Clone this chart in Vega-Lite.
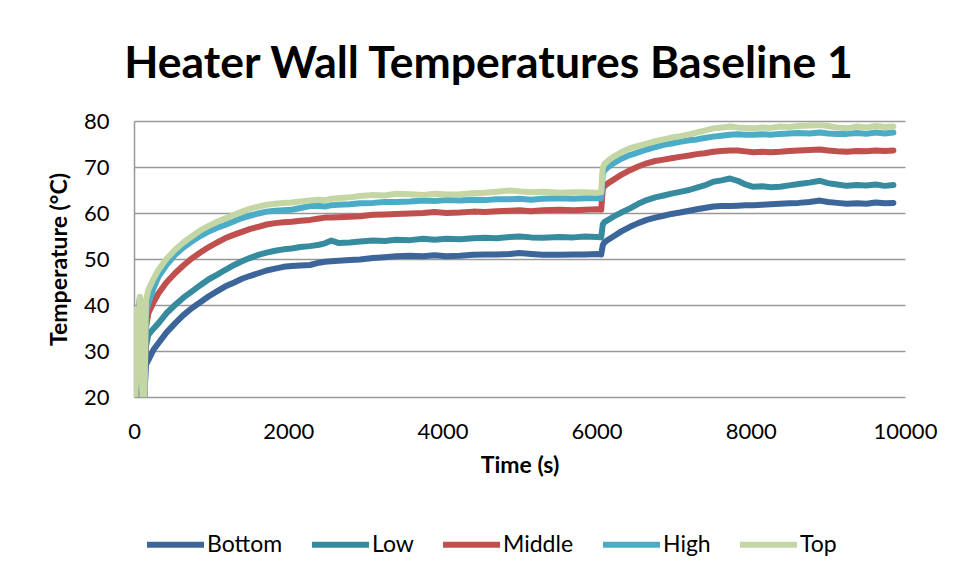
{
  "$schema": "https://vega.github.io/schema/vega-lite/v6.json",
  "width": 771,
  "height": 276,
  "autosize": {"type": "none"},
  "padding": {"left": 134, "top": 121, "right": 50, "bottom": 181},
  "background": "white",
  "config": {
    "font": "Lato",
    "view": {"stroke": null},
    "axis": {"labelFont": "Lato", "titleFont": "Lato"},
    "legend": {"labelFont": "Lato"}
  },
  "title": {
    "text": "Heater Wall Temperatures Baseline 1",
    "font": "Lato",
    "fontSize": 44.5,
    "fontWeight": "bold",
    "color": "#000000",
    "anchor": "middle",
    "dx": -31,
    "offset": 23
  },
  "data": {
    "values": [
      {"t": 0, "Bottom": 37.5, "Low": 38, "Middle": 38.5, "High": 39, "Top": 39},
      {"t": 15, "Bottom": 20, "Low": 20, "Middle": 20, "High": 20, "Top": 20},
      {"t": 40, "Bottom": 25, "Low": 26, "Middle": 26, "High": 27, "Top": 27},
      {"t": 75, "Bottom": 40, "Low": 40.5, "Middle": 41, "High": 41.5, "Top": 41.8},
      {"t": 95, "Bottom": 30, "Low": 30, "Middle": 30, "High": 30, "Top": 30},
      {"t": 110, "Bottom": 20, "Low": 20, "Middle": 20, "High": 20, "Top": 20},
      {"t": 135, "Bottom": 20, "Low": 20, "Middle": 20, "High": 20, "Top": 20},
      {"t": 155, "Bottom": 27, "Low": 31, "Middle": 35, "High": 38, "Top": 41},
      {"t": 186, "Bottom": 28.0, "Low": 33.5, "Middle": 38.2, "High": 40.4, "Top": 43.3},
      {"t": 250, "Bottom": 30.2, "Low": 34.8, "Middle": 40.5, "High": 43.5, "Top": 45.6},
      {"t": 316, "Bottom": 31.7, "Low": 36.0, "Middle": 42.5, "High": 46.1, "Top": 47.6},
      {"t": 420, "Bottom": 34.0, "Low": 38.2, "Middle": 44.9, "High": 48.7, "Top": 50.0},
      {"t": 532, "Bottom": 36.0, "Low": 40.0, "Middle": 46.9, "High": 50.9, "Top": 52.0},
      {"t": 640, "Bottom": 37.8, "Low": 41.6, "Middle": 48.6, "High": 52.5, "Top": 53.6},
      {"t": 748, "Bottom": 39.3, "Low": 42.9, "Middle": 50.1, "High": 53.8, "Top": 54.9},
      {"t": 860, "Bottom": 40.6, "Low": 44.3, "Middle": 51.4, "High": 55.0, "Top": 56.2},
      {"t": 970, "Bottom": 41.9, "Low": 45.6, "Middle": 52.6, "High": 56.0, "Top": 57.2},
      {"t": 1080, "Bottom": 43.0, "Low": 46.6, "Middle": 53.6, "High": 56.8, "Top": 58.1},
      {"t": 1180, "Bottom": 44.0, "Low": 47.6, "Middle": 54.5, "High": 57.4, "Top": 58.8},
      {"t": 1300, "Bottom": 44.9, "Low": 48.7, "Middle": 55.3, "High": 58.2, "Top": 59.6},
      {"t": 1400, "Bottom": 45.7, "Low": 49.5, "Middle": 55.9, "High": 58.9, "Top": 60.3},
      {"t": 1500, "Bottom": 46.3, "Low": 50.2, "Middle": 56.5, "High": 59.4, "Top": 60.9},
      {"t": 1613, "Bottom": 46.9, "Low": 50.9, "Middle": 57.0, "High": 59.9, "Top": 61.4},
      {"t": 1720, "Bottom": 47.5, "Low": 51.4, "Middle": 57.5, "High": 60.3, "Top": 61.8},
      {"t": 1830, "Bottom": 47.9, "Low": 51.8, "Middle": 57.8, "High": 60.5, "Top": 62.0},
      {"t": 1940, "Bottom": 48.3, "Low": 52.1, "Middle": 58.0, "High": 60.6, "Top": 62.2},
      {"t": 2045, "Bottom": 48.5, "Low": 52.3, "Middle": 58.1, "High": 60.7, "Top": 62.3},
      {"t": 2160, "Bottom": 48.6, "Low": 52.6, "Middle": 58.3, "High": 61.1, "Top": 62.5},
      {"t": 2283, "Bottom": 48.7, "Low": 52.8, "Middle": 58.5, "High": 61.5, "Top": 62.7},
      {"t": 2400, "Bottom": 49.2, "Low": 53.1, "Middle": 58.8, "High": 61.5, "Top": 62.9},
      {"t": 2477, "Bottom": 49.4, "Low": 53.4, "Middle": 59.0, "High": 61.4, "Top": 62.8},
      {"t": 2560, "Bottom": 49.5, "Low": 54.0, "Middle": 59.0, "High": 61.7, "Top": 63.1},
      {"t": 2650, "Bottom": 49.6, "Low": 53.5, "Middle": 59.1, "High": 61.8, "Top": 63.2},
      {"t": 2800, "Bottom": 49.8, "Low": 53.6, "Middle": 59.2, "High": 61.9, "Top": 63.4},
      {"t": 2931, "Bottom": 49.9, "Low": 53.8, "Middle": 59.3, "High": 62.1, "Top": 63.7},
      {"t": 3100, "Bottom": 50.2, "Low": 54.0, "Middle": 59.6, "High": 62.2, "Top": 63.9},
      {"t": 3250, "Bottom": 50.4, "Low": 53.9, "Middle": 59.7, "High": 62.4, "Top": 63.8},
      {"t": 3400, "Bottom": 50.6, "Low": 54.2, "Middle": 59.8, "High": 62.4, "Top": 64.2},
      {"t": 3580, "Bottom": 50.7, "Low": 54.1, "Middle": 59.9, "High": 62.5, "Top": 64.1},
      {"t": 3750, "Bottom": 50.6, "Low": 54.4, "Middle": 60.0, "High": 62.7, "Top": 63.9},
      {"t": 3900, "Bottom": 50.8, "Low": 54.2, "Middle": 60.2, "High": 62.6, "Top": 64.2},
      {"t": 4050, "Bottom": 50.6, "Low": 54.4, "Middle": 60.0, "High": 62.8, "Top": 64.0},
      {"t": 4228, "Bottom": 50.7, "Low": 54.3, "Middle": 60.1, "High": 62.7, "Top": 64.1},
      {"t": 4400, "Bottom": 50.9, "Low": 54.5, "Middle": 60.3, "High": 62.9, "Top": 64.3},
      {"t": 4550, "Bottom": 51.0, "Low": 54.6, "Middle": 60.2, "High": 62.8, "Top": 64.4},
      {"t": 4700, "Bottom": 51.0, "Low": 54.5, "Middle": 60.4, "High": 63.0, "Top": 64.6},
      {"t": 4877, "Bottom": 51.1, "Low": 54.8, "Middle": 60.5, "High": 63.0, "Top": 64.9},
      {"t": 5000, "Bottom": 51.3, "Low": 54.9, "Middle": 60.6, "High": 63.1, "Top": 64.7},
      {"t": 5150, "Bottom": 51.1, "Low": 54.7, "Middle": 60.4, "High": 62.9, "Top": 64.5},
      {"t": 5300, "Bottom": 50.9, "Low": 54.6, "Middle": 60.6, "High": 63.1, "Top": 64.6},
      {"t": 5525, "Bottom": 50.9, "Low": 54.8, "Middle": 60.7, "High": 63.2, "Top": 64.4},
      {"t": 5700, "Bottom": 51.0, "Low": 54.7, "Middle": 60.6, "High": 63.1, "Top": 64.5},
      {"t": 5850, "Bottom": 51.0, "Low": 54.9, "Middle": 60.7, "High": 63.2, "Top": 64.5},
      {"t": 6001, "Bottom": 51.1, "Low": 54.8, "Middle": 60.8, "High": 63.2, "Top": 64.4},
      {"t": 6060, "Bottom": 51.0, "Low": 54.7, "Middle": 60.7, "High": 63.2, "Top": 64.5},
      {"t": 6080, "Bottom": 53.0, "Low": 57.5, "Middle": 65.2, "High": 68.5, "Top": 69.8},
      {"t": 6100, "Bottom": 53.6, "Low": 58.0, "Middle": 65.8, "High": 69.2, "Top": 70.6},
      {"t": 6150, "Bottom": 54.2, "Low": 58.5, "Middle": 66.5, "High": 70.0, "Top": 71.4},
      {"t": 6217, "Bottom": 54.9, "Low": 59.2, "Middle": 67.2, "High": 70.8, "Top": 72.2},
      {"t": 6320, "Bottom": 56.0, "Low": 60.1, "Middle": 68.3, "High": 71.8, "Top": 73.2},
      {"t": 6433, "Bottom": 57.0, "Low": 61.0, "Middle": 69.3, "High": 72.6, "Top": 74.1},
      {"t": 6540, "Bottom": 57.8, "Low": 62.0, "Middle": 70.1, "High": 73.2, "Top": 74.6},
      {"t": 6650, "Bottom": 58.5, "Low": 62.8, "Middle": 70.8, "High": 73.8, "Top": 75.1},
      {"t": 6760, "Bottom": 59.0, "Low": 63.4, "Middle": 71.3, "High": 74.3, "Top": 75.6},
      {"t": 6870, "Bottom": 59.4, "Low": 63.8, "Middle": 71.6, "High": 74.8, "Top": 76.0},
      {"t": 6970, "Bottom": 59.8, "Low": 64.2, "Middle": 71.9, "High": 75.1, "Top": 76.4},
      {"t": 7082, "Bottom": 60.1, "Low": 64.6, "Middle": 72.2, "High": 75.5, "Top": 76.7},
      {"t": 7200, "Bottom": 60.5, "Low": 65.0, "Middle": 72.5, "High": 75.8, "Top": 77.1},
      {"t": 7300, "Bottom": 60.8, "Low": 65.5, "Middle": 72.8, "High": 76.0, "Top": 77.5},
      {"t": 7400, "Bottom": 61.1, "Low": 66.0, "Middle": 73.0, "High": 76.3, "Top": 77.9},
      {"t": 7514, "Bottom": 61.4, "Low": 66.8, "Middle": 73.3, "High": 76.6, "Top": 78.4},
      {"t": 7620, "Bottom": 61.5, "Low": 67.1, "Middle": 73.5, "High": 76.8, "Top": 78.6},
      {"t": 7730, "Bottom": 61.5, "Low": 67.5, "Middle": 73.6, "High": 77.0, "Top": 78.8},
      {"t": 7830, "Bottom": 61.6, "Low": 67.0, "Middle": 73.6, "High": 77.1, "Top": 78.6},
      {"t": 7930, "Bottom": 61.7, "Low": 66.2, "Middle": 73.4, "High": 77.0, "Top": 78.5},
      {"t": 8033, "Bottom": 61.7, "Low": 65.7, "Middle": 73.2, "High": 77.0, "Top": 78.4},
      {"t": 8150, "Bottom": 61.8, "Low": 65.8, "Middle": 73.3, "High": 77.1, "Top": 78.6},
      {"t": 8260, "Bottom": 61.9, "Low": 65.6, "Middle": 73.2, "High": 77.0, "Top": 78.5},
      {"t": 8379, "Bottom": 62.0, "Low": 65.7, "Middle": 73.3, "High": 77.2, "Top": 78.8},
      {"t": 8500, "Bottom": 62.1, "Low": 66.0, "Middle": 73.5, "High": 77.3, "Top": 78.7},
      {"t": 8620, "Bottom": 62.2, "Low": 66.3, "Middle": 73.6, "High": 77.4, "Top": 78.9},
      {"t": 8760, "Bottom": 62.4, "Low": 66.6, "Middle": 73.7, "High": 77.3, "Top": 79.0},
      {"t": 8898, "Bottom": 62.7, "Low": 67.0, "Middle": 73.8, "High": 77.5, "Top": 79.1},
      {"t": 9000, "Bottom": 62.4, "Low": 66.5, "Middle": 73.6, "High": 77.3, "Top": 78.9},
      {"t": 9120, "Bottom": 62.2, "Low": 66.2, "Middle": 73.4, "High": 77.2, "Top": 78.6},
      {"t": 9244, "Bottom": 62.0, "Low": 65.9, "Middle": 73.3, "High": 77.2, "Top": 78.4},
      {"t": 9380, "Bottom": 62.1, "Low": 66.1, "Middle": 73.5, "High": 77.4, "Top": 78.8},
      {"t": 9500, "Bottom": 62.0, "Low": 66.0, "Middle": 73.4, "High": 77.2, "Top": 78.6},
      {"t": 9620, "Bottom": 62.3, "Low": 66.2, "Middle": 73.6, "High": 77.5, "Top": 78.9},
      {"t": 9740, "Bottom": 62.1, "Low": 65.9, "Middle": 73.5, "High": 77.3, "Top": 78.7},
      {"t": 9849, "Bottom": 62.2, "Low": 66.1, "Middle": 73.6, "High": 77.5, "Top": 78.8}
    ]
  },
  "transform": [
    {"fold": ["Bottom", "Low", "Middle", "High", "Top"], "as": ["series", "temp"]}
  ],
  "mark": {"type": "line", "strokeWidth": 6, "strokeCap": "round", "strokeJoin": "round", "clip": true},
  "encoding": {
    "x": {
      "field": "t",
      "type": "quantitative",
      "scale": {"domain": [0, 10000], "nice": false},
      "axis": {
        "title": "Time (s)",
        "format": "d",
        "values": [0, 2000, 4000, 6000, 8000, 10000],
        "grid": false,
        "domain": false,
        "ticks": false,
        "labelPadding": 24,
        "labelFontSize": 22,
        "labelColor": "#000000",
        "titleFontSize": 23,
        "titleFontWeight": "bold",
        "titleColor": "#000000",
        "titlePadding": 12,
        "labelFlush": false
      }
    },
    "y": {
      "field": "temp",
      "type": "quantitative",
      "scale": {"domain": [20, 80], "nice": false, "zero": false},
      "axis": {
        "title": "Temperature (°C)",
        "values": [20, 30, 40, 50, 60, 70, 80],
        "grid": true,
        "gridColor": "#999999",
        "gridWidth": 1.5,
        "domain": true,
        "domainColor": "#999999",
        "domainWidth": 1.5,
        "ticks": false,
        "labelPadding": 25,
        "labelFontSize": 22,
        "labelColor": "#000000",
        "titleFontSize": 23,
        "titleFontWeight": "bold",
        "titleColor": "#000000",
        "titlePadding": 12
      }
    },
    "color": {
      "field": "series",
      "type": "nominal",
      "sort": ["Bottom", "Low", "Middle", "High", "Top"],
      "scale": {
        "domain": ["Bottom", "Low", "Middle", "High", "Top"],
        "range": ["#3c6699", "#378b9e", "#c0504d", "#4aacc6", "#c4d6a4"]
      },
      "legend": {
        "title": null,
        "orient": "none",
        "direction": "horizontal",
        "legendX": 10,
        "legendY": 392,
        "symbolType": "stroke",
        "symbolSize": 3249,
        "symbolStrokeWidth": 6,
        "labelFontSize": 23,
        "labelColor": "#000000",
        "labelOffset": 0,
        "columnPadding": 17
      }
    }
  }
}
